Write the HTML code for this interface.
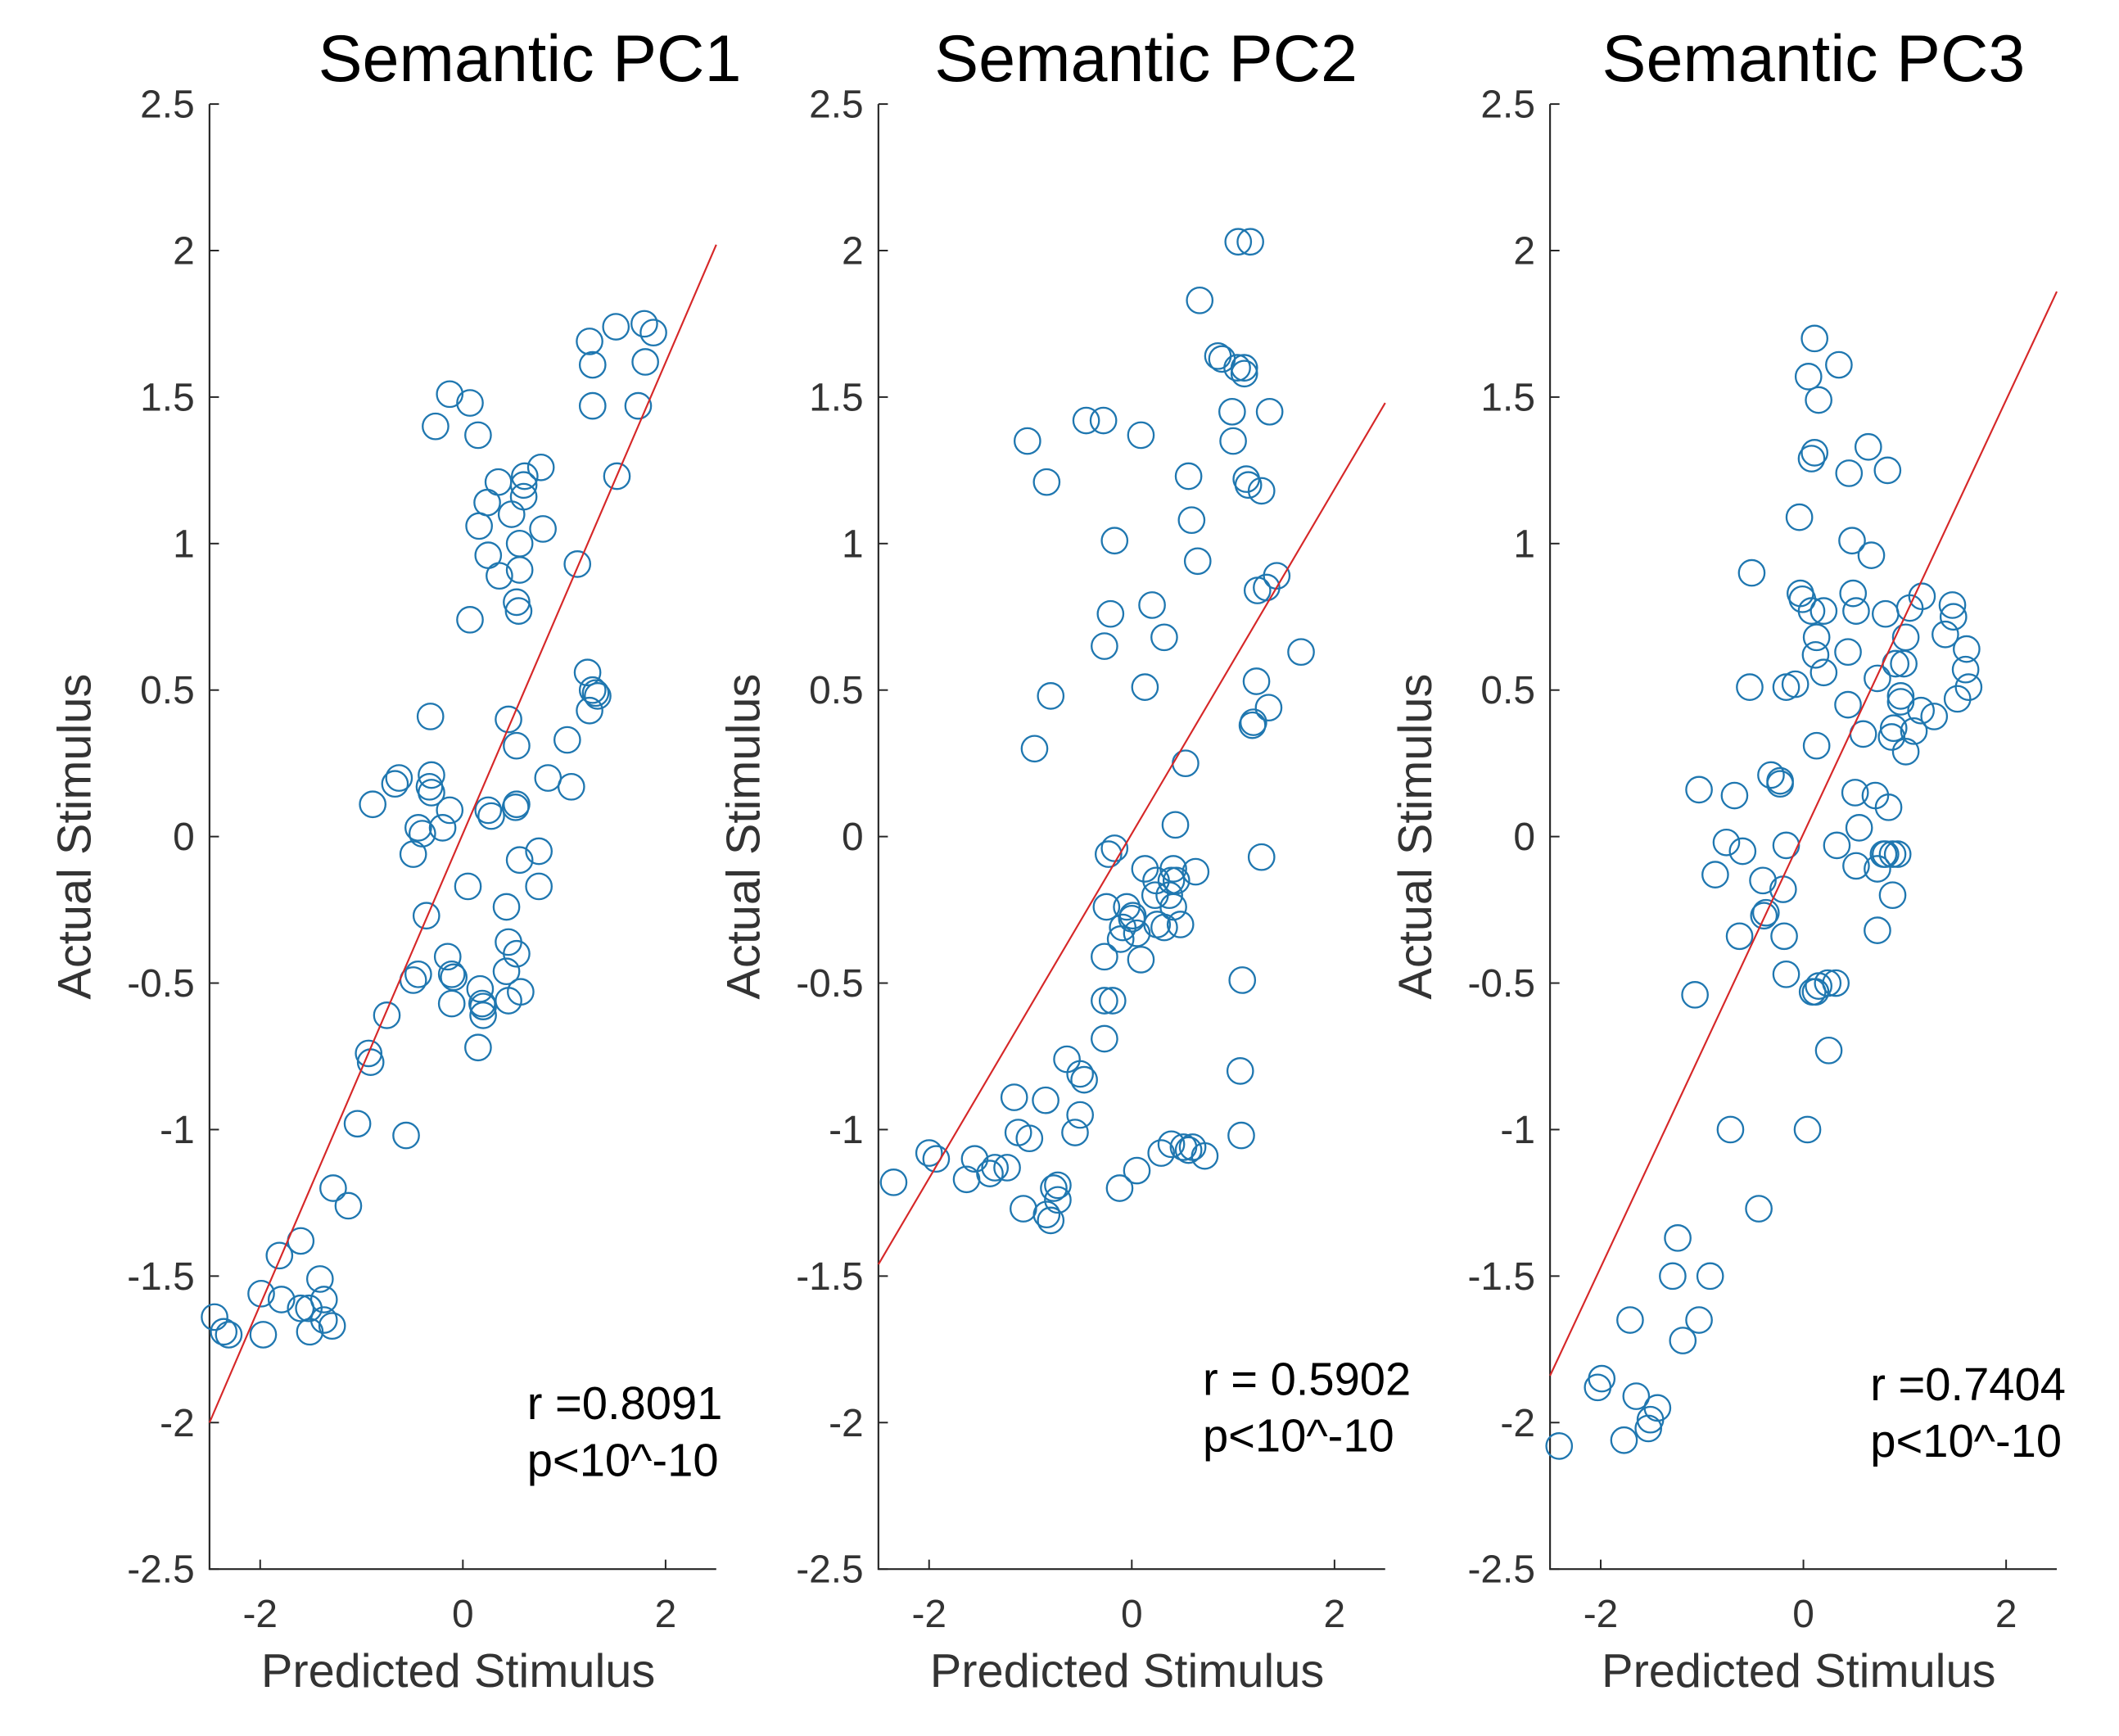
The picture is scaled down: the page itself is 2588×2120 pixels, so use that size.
<!DOCTYPE html>
<html><head><meta charset="utf-8"><style>
html,body{margin:0;padding:0;background:#fff;}
svg{display:block;}
text{font-family:"Liberation Sans",sans-serif;}
</style></head><body>
<svg id="fig" width="2588" height="2120" viewBox="0 0 1568 1284.5" xmlns="http://www.w3.org/2000/svg"></svg>
<script>
const titles = ["Semantic PC1","Semantic PC2","Semantic PC3"];
const rTexts = ["r =0.8091","r = 0.5902","r =0.7404"];
const pTexts = ["p<10^-10","p<10^-10","p<10^-10"];
const xTicks = [-2,0,2];
const yTicks = [-2.5,-2,-1.5,-1,-0.5,0,0.5,1,1.5,2,2.5];
const yTickLabels = ["-2.5","-2","-1.5","-1","-0.5","0","0.5","1","1.5","2","2.5"];
const fitStart = [-2.0,-1.46,-1.84];
const fitEnd = [2.02,1.48,1.86];
const x1 = [-2.45,-2.36,-2.31,-1.99,-1.97,-1.81,-1.79,-1.60,-1.52,-1.41,-1.37,-1.37,-1.29,-1.60,-1.51,-1.28,-1.13,-1.04,-0.93,-0.91,-0.75,-0.56,-0.89,-0.67,-0.63,-0.49,-0.44,-0.31,-0.31,-0.33,-0.40,-0.49,-0.44,-0.36,-0.32,-0.27,-0.20,-0.15,-0.13,-0.11,-0.13,-0.11,-0.09,0.05,0.07,0.07,0.15,0.16,0.15,0.17,0.19,0.20,0.20,0.25,0.28,0.25,0.24,0.35,0.36,0.43,0.43,0.45,0.45,0.45,0.48,0.53,0.52,0.53,0.53,0.55,0.56,0.57,0.53,0.56,0.56,0.60,0.60,0.61,0.75,0.75,0.77,0.79,0.84,1.03,1.07,1.13,1.23,1.25,1.28,1.25,1.28,1.28,1.31,1.33,1.51,1.52,1.73,1.79,1.80,1.88];
const y1 = [-1.64,-1.69,-1.70,-1.56,-1.70,-1.43,-1.58,-1.61,-1.61,-1.51,-1.58,-1.65,-1.67,-1.38,-1.69,-1.20,-1.26,-0.98,-0.74,-0.77,-0.61,-1.02,0.11,0.18,0.20,-0.06,0.03,0.21,0.15,0.17,0.01,-0.49,-0.47,-0.27,0.41,1.40,0.03,-0.41,0.09,-0.57,1.51,-0.47,-0.48,-0.17,0.74,1.48,1.37,1.06,-0.72,-0.52,-0.57,-0.58,-0.61,0.09,0.07,0.96,1.14,1.21,0.89,-0.46,-0.24,0.40,-0.56,-0.36,1.10,0.11,0.10,0.31,0.80,0.77,-0.08,-0.53,-0.40,1.00,0.91,1.16,1.20,1.23,-0.05,-0.17,1.26,1.05,0.20,0.33,0.17,0.93,0.56,0.43,0.50,1.69,1.61,1.47,0.49,0.48,1.74,1.23,1.47,1.75,1.62,1.72];
const x2 = [-2.35,-2.00,-1.93,-1.63,-1.55,-1.40,-1.35,-1.23,-1.07,-1.01,-1.12,-1.16,-0.85,-0.84,-0.80,-0.77,-0.73,-0.73,-0.64,-0.56,-0.47,-0.51,-0.51,-0.27,-0.27,-0.27,-0.19,-0.17,-0.23,-0.25,-0.17,-0.21,-0.27,-0.80,-1.03,-0.84,-0.96,-0.45,-0.28,0.09,-0.11,-0.09,-0.05,0.00,0.01,0.05,0.09,0.13,0.13,0.20,0.32,0.23,0.24,0.25,0.32,0.37,0.41,0.39,0.44,0.41,0.48,0.43,0.53,0.56,0.59,0.65,0.63,0.67,0.29,0.39,0.51,0.56,0.60,0.72,0.05,-0.12,0.89,0.85,0.99,1.05,1.17,1.04,1.11,1.11,1.15,1.13,1.00,1.28,1.36,1.07,1.08,1.09,1.19,1.20,1.23,1.24,1.28,1.35,1.33,1.43,1.67];
const y2 = [-1.18,-1.08,-1.10,-1.17,-1.10,-1.15,-1.13,-1.13,-1.27,-1.03,-1.01,-0.89,-0.90,-1.29,-1.31,-1.20,-1.24,-1.19,-0.76,-1.01,-0.83,-0.95,-0.81,-0.56,-0.41,-0.69,-0.56,-0.04,-0.06,-0.24,1.01,0.76,0.65,0.48,1.35,1.21,0.30,1.42,1.42,1.37,-0.35,-0.31,-0.24,-0.28,-0.27,-0.33,-0.42,-0.11,0.51,0.79,0.68,-0.20,-0.15,-0.30,-0.31,-0.20,-0.24,-0.15,-0.15,-0.11,-0.30,0.04,0.25,1.23,1.08,0.94,-0.12,1.83,-1.08,-1.05,-1.06,-1.07,-1.06,-1.09,-1.14,-1.20,1.63,1.64,1.45,2.03,2.03,1.60,1.60,1.58,1.20,1.22,1.35,1.18,1.45,-0.80,-1.02,-0.49,0.38,0.39,0.53,0.84,-0.07,0.44,0.85,0.89,0.63];
const x3 = [-2.41,-2.03,-1.99,-1.77,-1.71,-1.65,-1.53,-1.51,-1.44,-1.24,-1.29,-1.19,-1.07,-1.03,-1.03,-0.92,-0.87,-0.76,-0.72,-0.68,-0.63,-0.60,-0.51,-0.53,-0.44,-0.40,-0.39,-0.37,-0.32,-0.23,-0.23,-0.20,-0.19,-0.17,-0.17,-0.17,-0.04,-0.03,-0.01,-0.08,0.04,0.08,0.08,0.11,0.05,0.11,0.09,0.12,0.12,0.13,0.13,0.15,0.15,0.20,0.20,0.24,0.25,0.32,0.33,0.35,0.44,0.44,0.45,0.48,0.51,0.49,0.52,0.52,0.55,0.59,0.64,0.67,0.73,0.73,0.71,0.73,0.79,0.81,0.83,0.81,0.87,0.88,0.88,0.84,0.89,0.91,0.96,0.93,1.01,1.01,0.96,0.99,1.09,1.16,1.05,1.17,1.29,1.40,1.47,1.48,1.52,1.60,1.61,1.63];
const y3 = [-2.08,-1.88,-1.85,-2.06,-1.65,-1.91,-2.02,-1.99,-1.95,-1.37,-1.50,-1.72,-0.54,0.16,-1.65,-1.50,-0.13,-0.02,-1.00,0.14,-0.34,-0.05,0.90,0.51,-1.27,-0.15,-0.27,-0.26,0.21,0.19,0.18,-0.18,-0.34,-0.03,-0.47,0.51,1.09,0.83,0.81,0.52,-1.00,0.77,1.29,1.31,1.57,1.70,-0.53,-0.53,0.62,0.68,0.31,-0.51,1.49,0.77,0.56,-0.50,-0.73,-0.50,-0.03,1.61,0.45,0.63,1.24,1.01,0.15,0.83,0.77,-0.10,0.03,0.35,1.33,0.96,-0.11,0.54,0.14,-0.32,-0.06,-0.06,1.25,0.76,0.34,-0.06,-0.20,0.10,0.37,0.59,0.46,-0.06,0.29,0.68,0.48,0.59,0.36,0.43,0.78,0.82,0.41,0.69,0.79,0.75,0.47,0.57,0.64,0.51];
const xs = [x1,x2,x3], ys = [y1,y2,y3];

const NS = "http://www.w3.org/2000/svg";
const svg = document.getElementById('fig');
function mk(tag, attrs, parent){const e=document.createElementNS(NS,tag);for(const k in attrs)e.setAttribute(k,attrs[k]);(parent||svg).appendChild(e);return e;}
const axLeft=[155,650,1147], axW=375, axTop=77, axBot=1161;
const xmin=-2.5,xmax=2.5,ymin=-2.5,ymax=2.5;
for(let p=0;p<3;p++){
  const L=axLeft[p];
  const sx=v=>L+(v-xmin)/(xmax-xmin)*axW;
  const sy=v=>axBot-(v-ymin)/(ymax-ymin)*(axBot-axTop);
  const g=mk('g',{});
  
  
  const t=mk('text',{x:[392,848,1342][p],y:60,'font-size':49,'text-anchor':'middle',fill:'#000'},g);
  t.textContent=titles[p];
  
  
  const ax=mk('path',{d:`M${L},${axTop}V${axBot}H${L+axW}`,stroke:'#262626','stroke-width':1.3,fill:'none'},g);
  
  
  yTicks.forEach((v,i)=>{
    mk('line',{x1:L,x2:L+7,y1:sy(v),y2:sy(v),stroke:'#262626','stroke-width':1.2},g);
    const tl=mk('text',{x:L-11,y:sy(v)+10,'font-size':29,'text-anchor':'end',fill:'#333'},g);
    tl.textContent=yTickLabels[i];
    
    
  });
  xTicks.forEach(v=>{
    mk('line',{x1:sx(v),x2:sx(v),y1:axBot,y2:axBot-7,stroke:'#262626','stroke-width':1.2},g);
    const tl=mk('text',{x:sx(v),y:1204,'font-size':29,'text-anchor':'middle',fill:'#333'},g);
    tl.textContent=String(v);
    
    
  });
  const xt=mk('text',{x:L+184,y:1248,'font-size':35,'text-anchor':'middle',fill:'#333'},g);
  xt.textContent='Predicted Stimulus';
  
  
  const cx=L-100, cy=619;
  const yt=mk('text',{x:cx+12,y:cy,'font-size':35,'text-anchor':'middle',fill:'#333',transform:`rotate(-90 ${cx+12} ${cy})`},g);
  yt.textContent='Actual Stimulus';
  
  
  for(let i=0;i<xs[p].length;i++){
    const c=mk('circle',{cx:sx(xs[p][i]),cy:sy(ys[p][i]),r:9.5,fill:'none',stroke:'#1f77b0','stroke-width':1.4},g);
    
    
  }
  const fl=mk('line',{x1:sx(xmin),y1:sy(fitStart[p]),x2:sx(xmax),y2:sy(fitEnd[p]),stroke:'#d62728','stroke-width':1.3},g);
  
  
  const rx=[390,890,1384][p], ry=[1050,1032,1036][p];
  const rt=mk('text',{x:rx,y:ry,'font-size':34,fill:'#000'},g);
  rt.textContent=rTexts[p];
  
  
  const pt=mk('text',{x:rx,y:ry+42,'font-size':34,fill:'#000'},g);
  pt.textContent=pTexts[p];
  
  
}
</script>
</body></html>
